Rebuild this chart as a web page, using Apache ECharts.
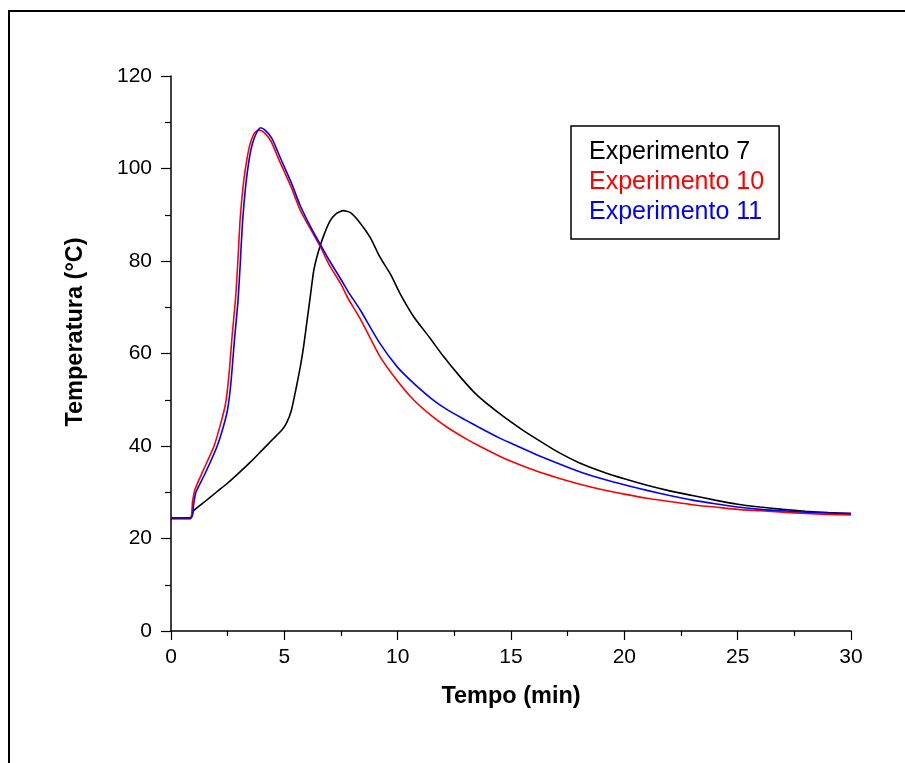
<!DOCTYPE html>
<html>
<head>
<meta charset="utf-8">
<script src="https://cdn.jsdelivr.net/npm/echarts@6/dist/echarts.min.js"></script>
<style>html,body{margin:0;padding:0;background:#fff}#c{width:905px;height:763px}</style>
</head>
<body>
<div id="c"></div>
<script>
const seriesNames = ['Experimento 7', 'Experimento 10', 'Experimento 11'];
const xTicks = [0, 5, 10, 15, 20, 25, 30];
const yTicks = [0, 20, 40, 60, 80, 100, 120];

const exp7 = [
  [0,24.3],[0.85,24.3],[0.95,25.5],[1.0,26],[1.5,28],[2.0,30],[2.5,32],[3.0,34.2],[3.5,36.5],[4.0,39],
  [4.5,41.5],[4.9,43.5],[5.1,45],[5.3,47.5],[5.5,52],[5.7,57],[5.85,61.5],[6.0,67],[6.15,72.5],[6.3,78],
  [6.5,82],[6.7,85],[7.0,88.5],[7.3,90.3],[7.6,90.9],[7.9,90.5],[8.3,88.5],[8.8,85],[9.2,81],[9.7,77],
  [10.1,73],[10.7,68],[11.4,63.5],[12,59.5],[12.75,55],[13.5,51],[14.5,47],[15.5,43.5],[16.3,41],[17,38.9],
  [18,36.4],[19,34.5],[20,32.9],[21,31.5],[22,30.3],[23,29.3],[24,28.3],[25,27.4],[26,26.8],[27,26.3],
  [28,25.9],[29,25.6],[30,25.4]
];
const exp10 = [
  [0,24.5],[0.85,24.5],[0.95,28],[1.05,30.5],[1.4,34.5],[1.9,40],[2.2,45],[2.4,49],[2.55,55],[2.7,64],
  [2.85,72],[2.95,80],[3.05,89],[3.2,97],[3.35,102],[3.5,105.5],[3.7,107.8],[3.9,108.3],[4.1,107.8],[4.4,106],
  [4.8,101.5],[5.3,96],[5.7,91],[6.2,86.5],[6.6,83],[7.0,79],[7.5,75],[7.8,72],[8.35,67.5],[9.2,59.5],
  [10,54],[10.7,50],[11.5,46.5],[12.2,44],[13,41.6],[13.6,40.0],[14.5,37.8],[15,36.7],[16,34.8],[17,33.2],
  [18,31.8],[19,30.6],[20,29.6],[21,28.7],[22,28],[23,27.3],[24,26.8],[25,26.3],[26,26],[27,25.7],
  [28,25.4],[29,25.2],[30,25.1]
];
const exp11 = [
  [0,24.5],[0.9,24.5],[1.0,27.5],[1.1,30],[1.5,34],[2.0,39.5],[2.3,44],[2.5,48],[2.65,54],[2.8,63],
  [2.95,71],[3.05,79],[3.15,88],[3.3,96.5],[3.45,102],[3.6,105.5],[3.8,108],[3.95,108.8],[4.15,108.3],[4.45,106.5],
  [4.85,102],[5.3,97],[5.7,92],[6.2,87],[6.6,83.5],[7.0,80],[7.5,76],[7.8,73.5],[8.35,69.4],[9.2,62.3],
  [10,57],[10.7,53.6],[11.5,50.2],[12.2,47.8],[13,45.6],[13.6,44.0],[14.5,41.7],[15.1,40.4],[16,38.4],[17,36.4],
  [18,34.5],[18.9,33.1],[20,31.6],[21,30.4],[22,29.3],[23,28.3],[24,27.5],[25,26.8],[26,26.3],[27,26],
  [28,25.7],[29,25.5],[30,25.4]
];

const colors = ['#000000', '#ff0000', '#0000ff'];
const dataSets = [exp7, exp10, exp11];
const FONT = '"Liberation Sans", Arial, sans-serif';

const chart = echarts.init(document.getElementById('c'), null, {renderer: 'canvas'});
chart.setOption({
  animation: false,
  backgroundColor: '#fff',
  grid: {left: 171, right: 54, top: 76, bottom: 132, containLabel: false},
  xAxis: {
    type: 'value', min: xTicks[0], max: xTicks[xTicks.length - 1], interval: 5,
    name: 'Tempo (min)', nameLocation: 'middle', nameGap: 54,
    nameTextStyle: {fontFamily: FONT, fontSize: 23.5, fontWeight: 'bold', color: '#000'},
    axisLine: {show: true, lineStyle: {color: '#000', width: 1.5}},
    axisTick: {show: true, inside: false, length: 9, lineStyle: {color: '#000', width: 1.2}},
    minorTick: {show: true, splitNumber: 2, length: 5, lineStyle: {color: '#000', width: 1.2}},
    axisLabel: {fontFamily: FONT, fontSize: 21, color: '#000', margin: 16},
    splitLine: {show: false}
  },
  yAxis: {
    type: 'value', min: yTicks[0], max: yTicks[yTicks.length - 1], interval: 20,
    axisLine: {show: true, lineStyle: {color: '#000', width: 1.5}},
    axisTick: {show: true, inside: false, length: 10, lineStyle: {color: '#000', width: 1.2}},
    minorTick: {show: true, splitNumber: 2, length: 6, lineStyle: {color: '#000', width: 1.2}},
    axisLabel: {fontFamily: FONT, fontSize: 21, color: '#000', margin: 19},
    splitLine: {show: false}
  },
  legend: {
    orient: 'vertical', left: 571, top: 126,
    icon: 'rect', itemWidth: 0, itemHeight: 30, itemGap: 0,
    padding: [11, 15, 12, 13],
    borderColor: '#000', borderWidth: 1.5,
    backgroundColor: '#fff',
    selectedMode: false,
    textStyle: {fontFamily: FONT, fontSize: 25},
    data: seriesNames.map((n, i) => ({name: n, textStyle: {color: colors[i], fontFamily: FONT, fontSize: 25}}))
  },
  graphic: [
    {type: 'rect', shape: {x: 9, y: 11, width: 1000, height: 1000}, style: {fill: null, stroke: '#000', lineWidth: 2}, silent: true, z: 100},
    {type: 'text', x: 76, y: 332, rotation: Math.PI / 2,
     style: {text: 'Temperatura (°C)', fontFamily: FONT, fontSize: 23.5, fontWeight: 'bold', fill: '#000', align: 'center', verticalAlign: 'middle'}}
  ],
  series: seriesNames.map((n, i) => ({
    name: n, type: 'line', data: dataSets[i], showSymbol: false, symbol: 'none',
    smooth: 0.2,
    itemStyle: {color: colors[i]},
    lineStyle: {color: colors[i], width: 1.6},
    z: 2 + i
  }))
});
</script>
</body>
</html>
